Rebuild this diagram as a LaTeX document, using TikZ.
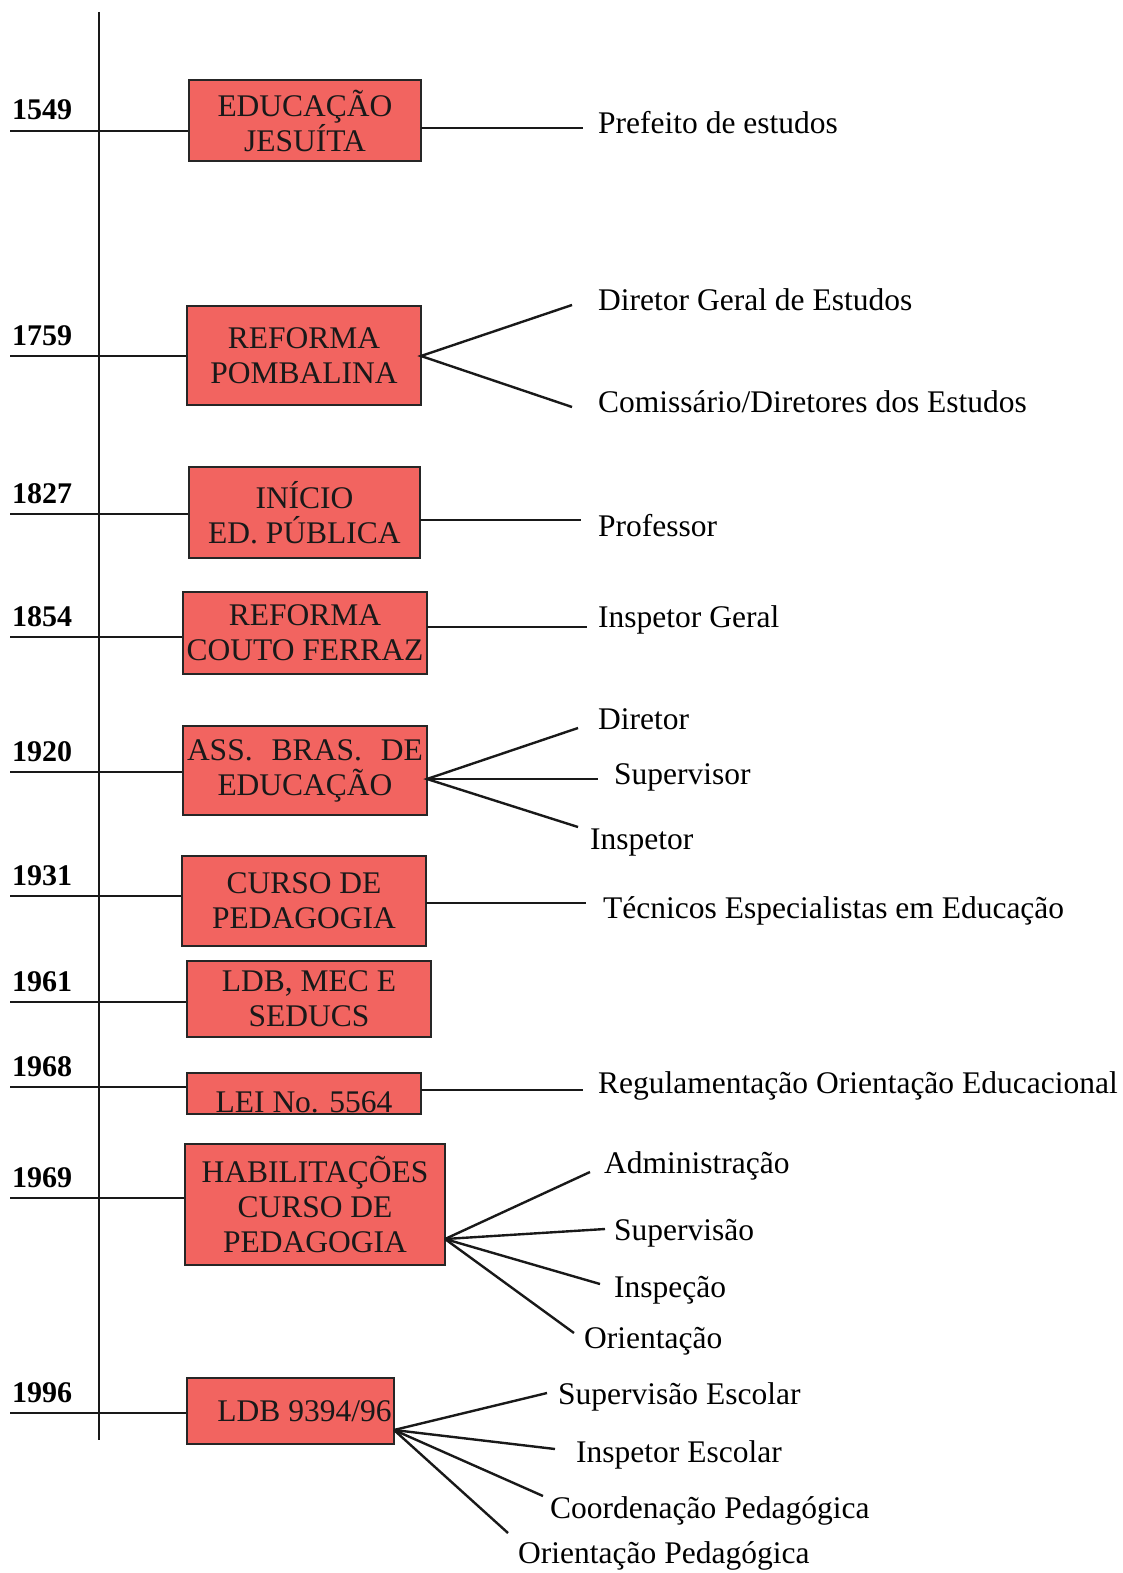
\documentclass[tikz,border=0pt]{standalone}
\usepackage{fontspec}
\setmainfont{Liberation Serif}
\definecolor{boxred}{RGB}{242,100,96}
\tikzset{
  box/.style={draw=black!85, line width=2.2pt, fill=boxred, inner sep=0pt, align=center, font=\fontsize{31.5}{35}\selectfont, text=black!90},
  yr/.style={anchor=base west, inner sep=0pt, font=\bfseries\fontsize{30}{30}\selectfont},
  lbl/.style={anchor=base west, inner sep=0pt, font=\fontsize{31.5}{35}\selectfont},
  ln/.style={line width=2.4pt, draw=black!90}
}
\begin{document}
\begin{tikzpicture}[x=1pt,y=-1pt]
\useasboundingbox (0,0) rectangle (1123,1573);
% axis
\coordinate (axtop) at (99,12);
\coordinate (axbot) at (99,1440);
\draw[ln] (axtop) -- (axbot);

% boxes
\node[box, minimum width=232pt, minimum height=81pt] (b1) at (305,120.5) {EDUCAÇÃO\\JESUÍTA};
\node[box, minimum width=234pt, minimum height=99pt] (b2) at (304,355.5) {REFORMA\\POMBALINA};
\node[box, minimum width=231pt, minimum height=91pt] (b3) at (304.5,512.5) {INÍCIO\\ED. PÚBLICA};
\node[box, minimum width=244pt, minimum height=82pt] (b4) at (305,633) {REFORMA\\COUTO FERRAZ};
\node[box, minimum width=244pt, minimum height=89pt] (b5) at (305,770.5) {\makebox[236pt][s]{ASS. BRAS. DE}\\EDUCAÇÃO};
\node[box, minimum width=244pt, minimum height=90pt] (b6) at (304,901) {CURSO DE\\PEDAGOGIA};
\node[box, minimum width=244pt, minimum height=76pt] (b7) at (309,999) {LDB, MEC E\\SEDUCS};
\node[box, minimum width=234pt, minimum height=41pt, text height=38pt, text depth=0pt] (b8) at (304,1093.5) {LEI No. 5564};
\node[box, minimum width=260pt, minimum height=121pt] (b9) at (315,1204.5) {HABILITAÇÕES\\CURSO DE\\PEDAGOGIA};
\node[box, minimum width=207pt, minimum height=66pt] (b10) at (290.5,1411) {\hspace*{28pt}LDB 9394/96};

% years and year lines
\foreach \n/\yy/\t in {1/131/1549, 2/356/1759, 3/514/1827, 4/637/1854, 5/772/1920, 6/896/1931, 7/1002/1961, 8/1087/1968, 9/1198/1969, 10/1413/1996}{
  \coordinate (ys\n) at (10,\yy);
  \node[yr] (yr\n) at (12,\yy-11) {\t};
  \draw[ln] (ys\n) -- (ys\n -| b\n.west);
}

% junctions on boxes
\coordinate (j1) at (421,128);
\coordinate (j2) at (421,356);
\coordinate (j3) at (420,520);
\coordinate (j4) at (427,627);
\coordinate (j5) at (427,779);
\coordinate (j6) at (426,903);
\coordinate (j8) at (421,1090);
\coordinate (j9) at (445,1239);
\coordinate (j10) at (394,1430);

% free ends
\coordinate (e1) at (583,128);
\coordinate (e2a) at (572,305);
\coordinate (e2b) at (572,407);
\coordinate (e3) at (581,520);
\coordinate (e4) at (587,627);
\coordinate (e5a) at (578,728);
\coordinate (e5b) at (598,779);
\coordinate (e5c) at (578,827);
\coordinate (e6) at (586,903);
\coordinate (e8) at (583,1090);
\coordinate (e9a) at (590,1172);
\coordinate (e9b) at (605,1229);
\coordinate (e9c) at (600,1284);
\coordinate (e9d) at (574,1333);
\coordinate (e10a) at (547,1393);
\coordinate (e10b) at (555,1449);
\coordinate (e10c) at (543,1496);
\coordinate (e10d) at (508,1533);

\draw[ln] (j1) -- (e1);
\draw[ln] (e2a) -- (j2) -- (e2b);
\draw[ln] (j3) -- (e3);
\draw[ln] (j4) -- (e4);
\draw[ln] (e5a) -- (j5) -- (e5c);
\draw[ln] (j5) -- (e5b);
\draw[ln] (j6) -- (e6);
\draw[ln] (j8) -- (e8);
\draw[ln] (j9) -- (e9a);
\draw[ln] (j9) -- (e9b);
\draw[ln] (j9) -- (e9c);
\draw[ln] (j9) -- (e9d);
\draw[ln] (j10) -- (e10a);
\draw[ln] (j10) -- (e10b);
\draw[ln] (j10) -- (e10c);
\draw[ln] (j10) -- (e10d);

% labels
\node[lbl] (l1) at (598,134) {Prefeito de estudos};
\node[lbl] (l2a) at (598,310) {Diretor Geral de Estudos};
\node[lbl] (l2b) at (598,412) {Comissário/Diretores dos Estudos};
\node[lbl] (l3) at (598,536) {Professor};
\node[lbl] (l4) at (598,627) {Inspetor Geral};
\node[lbl] (l5a) at (598,729) {Diretor};
\node[lbl] (l5b) at (614,784) {Supervisor};
\node[lbl] (l5c) at (590,849) {Inspetor};
\node[lbl] (l6) at (603,918) {Técnicos Especialistas em Educação};
\node[lbl] (l8) at (598,1093) {Regulamentação Orientação Educacional};
\node[lbl] (l9a) at (604,1173) {Administração};
\node[lbl] (l9b) at (614,1240) {Supervisão};
\node[lbl] (l9c) at (614,1297) {Inspeção};
\node[lbl] (l9d) at (584,1348) {Orientação};
\node[lbl] (l10a) at (558,1404) {Supervisão Escolar};
\node[lbl] (l10b) at (576,1462) {Inspetor Escolar};
\node[lbl] (l10c) at (550,1518) {Coordenação Pedagógica};
\node[lbl] (l10d) at (518,1563) {Orientação Pedagógica};
\end{tikzpicture}
\end{document}
